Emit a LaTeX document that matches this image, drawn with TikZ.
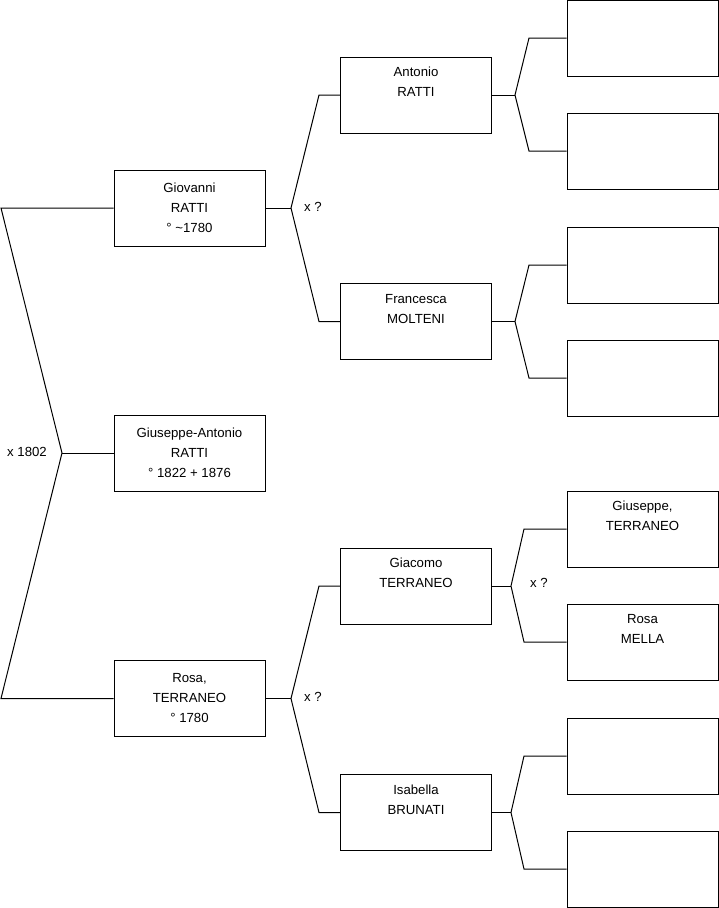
\documentclass[tikz,border=0pt]{standalone}
\usepackage{fontspec}
\setmainfont{Liberation Sans}
\begin{document}
\begin{tikzpicture}[x=1pt,y=-1pt,
  person/.style={draw=black,line width=1pt,minimum width=151pt,minimum height=76pt,inner sep=0pt,
    align=center,font=\fontsize{13.2}{20}\selectfont},
  link/.style={draw=black,line width=1pt},
  lbl/.style={font=\fontsize{13.2}{15}\selectfont,inner sep=0pt}]
\useasboundingbox (0,0) rectangle (719,908);
% left column
\node[person] (gio) at (189.5,208) {Giovanni\\RATTI\\° \textasciitilde1780};
\node[person] (giu) at (189.5,453) {Giuseppe-Antonio\\RATTI\\° 1822 + 1876};
\node[person] (rosa) at (189.5,698.5) {Rosa,\\TERRANEO\\° 1780};
% middle column
\node[person] (ant) at (416,95) {Antonio\\RATTI\\\strut};
\node[person] (fra) at (416,321.5) {Francesca\\MOLTENI\\\strut};
\node[person] (gia) at (416,586) {Giacomo\\TERRANEO\\\strut};
\node[person] (isa) at (416,812.5) {Isabella\\BRUNATI\\\strut};
% right column
\node[person] (r1) at (642.5,38) {};
\node[person] (r2) at (642.5,151) {};
\node[person] (r3) at (642.5,265) {};
\node[person] (r4) at (642.5,378) {};
\node[person] (r5) at (642.5,529) {Giuseppe,\\TERRANEO\\\strut};
\node[person] (r6) at (642.5,642) {Rosa\\MELLA\\\strut};
\node[person] (r7) at (642.5,756) {};
\node[person] (r8) at (642.5,869) {};
% forks
\coordinate (j0) at (62,453);
\coordinate (t0) at (1,208);
\coordinate (b0) at (1,698.5);
\draw[link] (gio.west) -- (t0) -- (j0) -- (b0) -- (rosa.west);
\draw[link] (j0) -- (giu.west);
\node[lbl] (m0) at (27,452) {x 1802};

\coordinate (j1) at (291,208);
\coordinate (t1) at (319,95);
\coordinate (b1) at (319,321.5);
\draw[link] (gio.east) -- (j1);
\draw[link] (ant.west) -- (t1) -- (j1) -- (b1) -- (fra.west);
\node[lbl] (m1) at (313,207) {x ?};

\coordinate (j2) at (291,698.5);
\coordinate (t2) at (319,586);
\coordinate (b2) at (319,812.5);
\draw[link] (rosa.east) -- (j2);
\draw[link] (gia.west) -- (t2) -- (j2) -- (b2) -- (isa.west);
\node[lbl] (m2) at (313,697) {x ?};

\coordinate (j3) at (515,95);
\coordinate (t3) at (529,38);
\coordinate (b3) at (529,151);
\draw[link] (ant.east) -- (j3);
\draw[link] (r1.west) -- (t3) -- (j3) -- (b3) -- (r2.west);

\coordinate (j4) at (515,321.5);
\coordinate (t4) at (529,265);
\coordinate (b4) at (529,378);
\draw[link] (fra.east) -- (j4);
\draw[link] (r3.west) -- (t4) -- (j4) -- (b4) -- (r4.west);

\coordinate (j5) at (511,586);
\coordinate (t5) at (524,529);
\coordinate (b5) at (524,642);
\draw[link] (gia.east) -- (j5);
\draw[link] (r5.west) -- (t5) -- (j5) -- (b5) -- (r6.west);
\node[lbl] (m5) at (539,583) {x ?};

\coordinate (j6) at (511,812.5);
\coordinate (t6) at (524,756);
\coordinate (b6) at (524,869);
\draw[link] (isa.east) -- (j6);
\draw[link] (r7.west) -- (t6) -- (j6) -- (b6) -- (r8.west);
\end{tikzpicture}
\end{document}
